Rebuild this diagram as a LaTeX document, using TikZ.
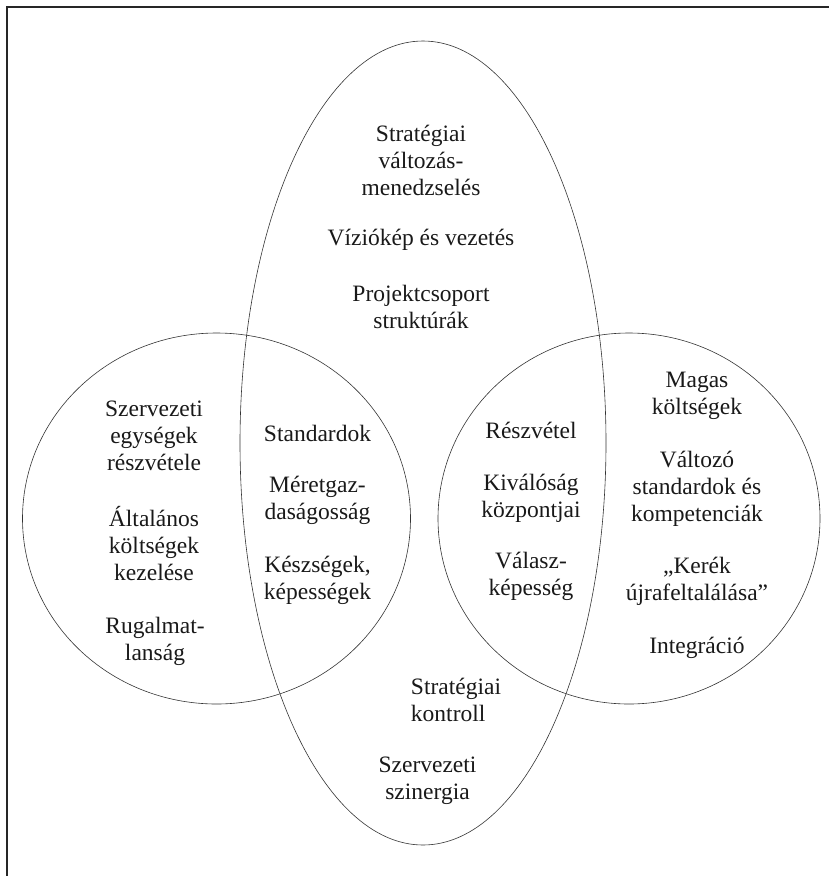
\documentclass[tikz,border=0pt]{standalone}
\usepackage{fontspec}
\setmainfont{Liberation Serif}
\begin{document}
\begin{tikzpicture}[x=1pt,y=-1pt,
  lbl/.style={align=center,inner sep=0pt,font=\fontsize{23.5}{27}\selectfont,text=black!90},
  outline/.style={draw=black!80,line width=0.6pt}]
\useasboundingbox (0,0) rectangle (829,876);
% open frame: top and left edges
\draw[line width=1.3pt,black!85] (7,876) -- (7,7) -- (829,7);
% the three overlapping regions
\draw[outline] (423,443) ellipse [x radius=183pt, y radius=402pt];
\draw[outline] (216.5,518.5) ellipse [x radius=194pt, y radius=185.5pt];
\draw[outline] (629,518.5) ellipse [x radius=191pt, y radius=185.5pt];
% upper part of the tall ellipse
\node[lbl] (strat) at (421,160) {Stratégiai\\változás-\\menedzselés};
\node[lbl] (vizio) at (421,240) {Víziókép és vezetés};
\node[lbl] (proj) at (421,306.5) {Projektcsoport\\struktúrák};
% left circle
\node[lbl] (szerv) at (154,435.5) {Szervezeti\\egységek\\részvétele};
\node[lbl] (altal) at (154,544) {Általános\\költségek\\kezelése};
\node[lbl] (rugal) at (155,641.5) {Rugalmat-\\lanság};
% left overlap
\node[lbl] (stand) at (317.5,433) {Standardok};
\node[lbl] (meret) at (317.5,500.5) {Méretgaz-\\daságosság};
\node[lbl] (kesz) at (317.5,580) {Készségek,\\képességek};
% right overlap
\node[lbl] (resz) at (531,430) {Részvétel};
\node[lbl] (kival) at (531,498.5) {Kiválóság\\központjai};
\node[lbl] (valasz) at (531,576) {Válasz-\\képesség};
% right circle
\node[lbl] (magas) at (697,395.5) {Magas\\költségek};
\node[lbl] (valt) at (697,489) {Változó\\standardok és\\kompetenciák};
\node[lbl] (kerek) at (697,581.5) {„Kerék\\újrafeltalálása”};
\node[lbl] (integ) at (697,648) {Integráció};
% lower part of the tall ellipse
\node[lbl,align=left] (kontr) at (456,700) {Stratégiai\\kontroll};
\node[lbl] (szin) at (427.5,780.5) {Szervezeti\\szinergia};
\end{tikzpicture}
\end{document}
